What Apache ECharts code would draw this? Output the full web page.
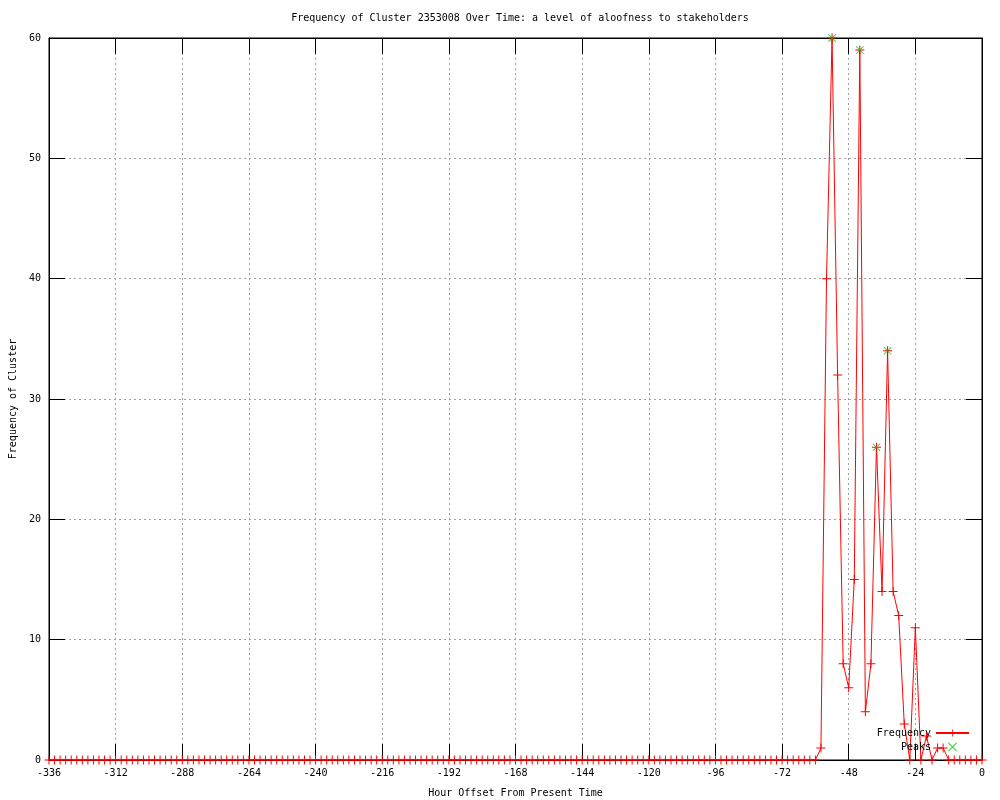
<!DOCTYPE html>
<html>
<head>
<meta charset="utf-8">
<script src="https://cdn.jsdelivr.net/npm/echarts@6/dist/echarts.min.js"></script>
<style>html,body{margin:0;padding:0;background:#fff}#c{width:1000px;height:800px}</style>
</head>
<body>
<div id="c"></div>
<script>
// Hours from -336 to 0, every 2 hours
var startHour = -336;
var stepHours = 2;
// Frequency values, one per 2-hour slot from -336 to 0
var frequency = [
  0,0,0,0,0,0,0,0,0,0,0,0,0,0,0,0,0,0,0,0,
  0,0,0,0,0,0,0,0,0,0,0,0,0,0,0,0,0,0,0,0,
  0,0,0,0,0,0,0,0,0,0,0,0,0,0,0,0,0,0,0,0,
  0,0,0,0,0,0,0,0,0,0,0,0,0,0,0,0,0,0,0,0,
  0,0,0,0,0,0,0,0,0,0,0,0,0,0,0,0,0,0,0,0,
  0,0,0,0,0,0,0,0,0,0,0,0,0,0,0,0,0,0,0,0,
  0,0,0,0,0,0,0,0,0,0,0,0,0,0,0,0,0,0,0,
  // -58 .. -14
  1,40,60,32,8,6,15,59,4,8,26,14,34,14,12,3,0,11,0,2,0,1,1,
  // -12 .. 0
  0,0,0,0,0,0,0
];
var peakHours = [-54, -44, -38, -34];
var peakValues = [60, 59, 26, 34];
var xTicks = [-336,-312,-288,-264,-240,-216,-192,-168,-144,-120,-96,-72,-48,-24,0];
var yTicks = [0,10,20,30,40,50,60];

var freqData = frequency.map(function (v, i) { return [startHour + i * stepHours, v]; });
var peakData = peakHours.map(function (h, i) { return [h, peakValues[i]]; });

var plusPath = 'path://M0,4.45H10V5.55H0ZM4.45,0H5.55V10H4.45Z';
var crossPath = 'path://M0,0.8L0.8,0L10,9.2L9.2,10ZM9.2,0L10,0.8L0.8,10L0,9.2Z';
var FONT = 'DejaVu Sans Mono';

var chart = echarts.init(document.getElementById('c'), null, {renderer: 'canvas'});
chart.setOption({
  animation: false,
  backgroundColor: '#ffffff',
  textStyle: {fontFamily: FONT, color: '#000'},
  title: {
    text: 'Frequency of Cluster 2353008 Over Time: a level of aloofness to stakeholders',
    left: 515, top: 8, textAlign: 'center',
    textStyle: {fontFamily: FONT, fontSize: 10, fontWeight: 'normal', color: '#000'}
  },
  grid: {left: 49, right: 18, top: 38, bottom: 40, show: true, borderColor: '#000', borderWidth: 1,
    backgroundColor: 'transparent', containLabel: false, outerBoundsMode: 'none'},
  legend: {
    right: 25, top: 723, orient: 'vertical', align: 'right',
    itemWidth: 33, itemHeight: 9, itemGap: 4,
    textStyle: {fontFamily: FONT, fontSize: 10, color: '#000'},
    data: ['Frequency', 'Peaks']
  },
  xAxis: [{
    type: 'value', min: -336, max: 0, interval: 24, position: 'bottom',
    name: 'Hour Offset From Present Time', nameLocation: 'middle', nameGap: 28,
    nameTextStyle: {fontFamily: FONT, fontSize: 10, color: '#000'},
    axisLine: {show: true, onZero: false, lineStyle: {color: '#000', width: 1}},
    axisTick: {show: true, inside: true, length: 16, lineStyle: {color: '#000'}},
    axisLabel: {show: true, margin: 8, fontFamily: FONT, fontSize: 10, color: '#000',
      formatter: function (v) { return xTicks.indexOf(v) >= 0 ? String(v) : ''; }},
    splitLine: {show: true, lineStyle: {color: '#a0a0a0', type: [2, 3], width: 1}}
  }, {
    type: 'value', min: -336, max: 0, interval: 24, position: 'top',
    axisLine: {show: true, onZero: false, lineStyle: {color: '#000'}},
    axisTick: {show: true, inside: true, length: 16, lineStyle: {color: '#000'}},
    axisLabel: {show: false}, splitLine: {show: false}
  }],
  yAxis: [{
    type: 'value', min: 0, max: 60, interval: 10, position: 'left',
    name: 'Frequency of Cluster', nameLocation: 'middle', nameGap: 31, nameRotate: 90,
    nameTextStyle: {fontFamily: FONT, fontSize: 10, color: '#000'},
    axisLine: {show: true, onZero: false, lineStyle: {color: '#000', width: 1}},
    axisTick: {show: true, inside: true, length: 16, lineStyle: {color: '#000'}},
    axisLabel: {show: true, margin: 8, fontFamily: FONT, fontSize: 10, color: '#000',
      formatter: function (v) { return yTicks.indexOf(v) >= 0 ? String(v) : ''; }},
    splitLine: {show: true, lineStyle: {color: '#a0a0a0', type: [2, 3], width: 1}}
  }, {
    type: 'value', min: 0, max: 60, interval: 10, position: 'right',
    axisLine: {show: true, onZero: false, lineStyle: {color: '#000'}},
    axisTick: {show: true, inside: true, length: 16, lineStyle: {color: '#000'}},
    axisLabel: {show: false}, splitLine: {show: false}
  }],
  series: [{
    name: 'Frequency', type: 'line', xAxisIndex: 0, yAxisIndex: 0,
    data: freqData,
    color: '#ff0000',
    lineStyle: {color: '#ff0000', width: 1},
    symbol: plusPath, symbolSize: 9, showSymbol: true, showAllSymbol: true,
    itemStyle: {color: '#ff0000'},
    emphasis: {disabled: true}, z: 3
  }, {
    name: 'Peaks', type: 'scatter', xAxisIndex: 0, yAxisIndex: 0,
    data: peakData,
    color: '#00c000',
    symbol: crossPath, symbolSize: 8,
    itemStyle: {color: '#00c000'},
    emphasis: {disabled: true}, z: 4
  }]
});
</script>
</body>
</html>
